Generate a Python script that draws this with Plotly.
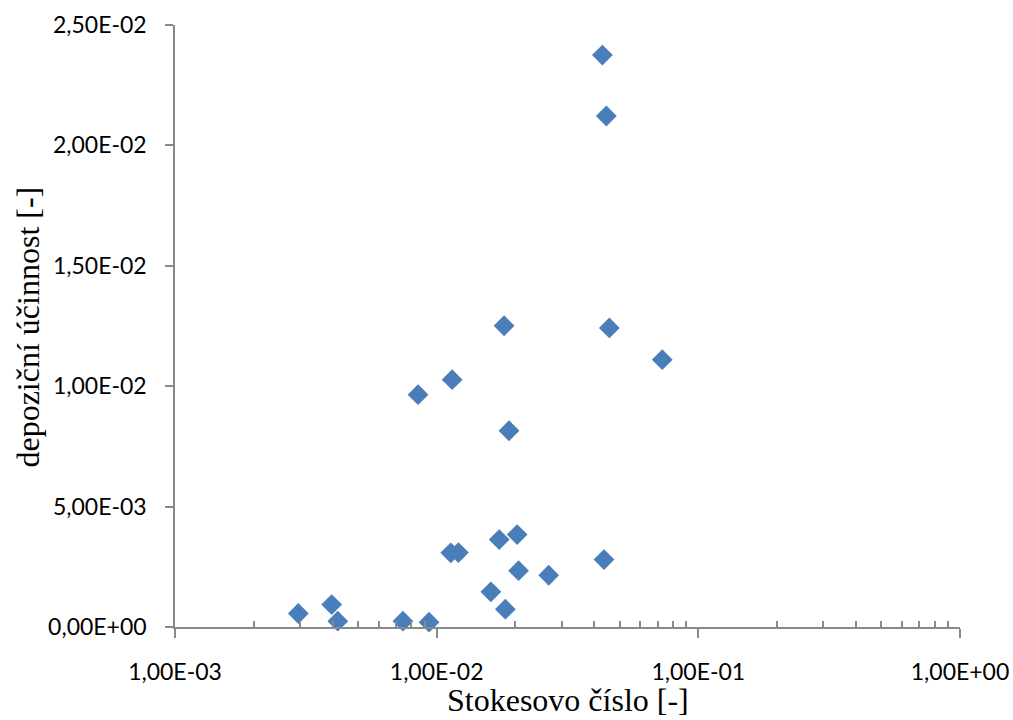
import plotly.graph_objects as go

stokes = [0.0430, 0.0445, 0.0181, 0.0457, 0.0728, 0.01146, 0.00849, 0.0189,
          0.0203, 0.01734, 0.01132, 0.01211, 0.0436, 0.02056, 0.0268, 0.01611,
          0.0183, 0.00296, 0.00397, 0.00419, 0.00743, 0.00935]
efficiency = [0.02375, 0.02122, 0.01251, 0.01242, 0.01110, 0.01027, 0.00965, 0.00815,
              0.00384, 0.00363, 0.00308, 0.00309, 0.00280, 0.00234, 0.00215, 0.00146,
              0.00074, 0.00056, 0.00093, 0.00024, 0.00024, 0.00020]

x_tickvals = [0.001, 0.01, 0.1, 1.0]
x_ticktext = ["1,00E-03", "1,00E-02", "1,00E-01", "1,00E+00"]
x_decades = [0.001, 0.01, 0.1]
x_minor_mult = [2, 3, 4, 5, 6, 7, 8, 9]
y_tickvals = [0.0, 0.005, 0.010, 0.015, 0.020, 0.025]
y_ticktext = ["0,00E+00", "5,00E-03", "1,00E-02", "1,50E-02", "2,00E-02", "2,50E-02"]
x_title = "Stokesovo číslo [-]"
y_title = "depoziční účinnost [-]"

minor_vals = [d * m for d in x_decades for m in x_minor_mult]

axis_color = "#898989"
tick_font = dict(family="Lato, Carlito, Liberation Sans, sans-serif", size=23, color="#000000")
title_font = dict(family="Liberation Serif, Times New Roman, serif", size=32, color="#000000")

fig = go.Figure()
fig.add_trace(go.Scatter(
    x=stokes, y=efficiency, mode="markers",
    marker=dict(symbol="diamond", size=16, color="#4A7EBB", line=dict(width=0)),
    showlegend=False, cliponaxis=False,
))

fig.update_layout(
    width=1013, height=720,
    margin=dict(l=175, r=53, t=25, b=93),
    paper_bgcolor="white", plot_bgcolor="white",
)
fig.update_xaxes(
    type="log", range=[-3, 0], automargin=False,
    tickvals=x_tickvals, ticktext=x_ticktext,
    showgrid=False, zeroline=False,
    showline=True, linecolor=axis_color, linewidth=1.5,
    ticks="outside", ticklen=9, tickcolor=axis_color, tickwidth=1.5,
    minor=dict(tickvals=minor_vals, ticks="inside", ticklen=6,
               tickcolor=axis_color, tickwidth=1.5, showgrid=False),
    tickfont=tick_font, ticklabelstandoff=15,
)
fig.update_yaxes(
    range=[0, 0.025], automargin=False,
    tickvals=y_tickvals, ticktext=y_ticktext,
    showgrid=False, zeroline=False,
    showline=True, linecolor=axis_color, linewidth=1.5,
    ticks="outside", ticklen=8, tickcolor=axis_color, tickwidth=1.5,
    tickfont=tick_font, ticklabelstandoff=14,
)

fig.add_annotation(text=x_title, xref="paper", yref="paper", x=0.5, y=-0.1213,
                   xanchor="center", yanchor="middle", showarrow=False, font=title_font)
fig.add_annotation(text=y_title, xref="paper", yref="paper", x=-0.1885, y=0.4975,
                   xanchor="center", yanchor="middle", textangle=-90,
                   showarrow=False, font=title_font)

fig.write_html("out.html")
